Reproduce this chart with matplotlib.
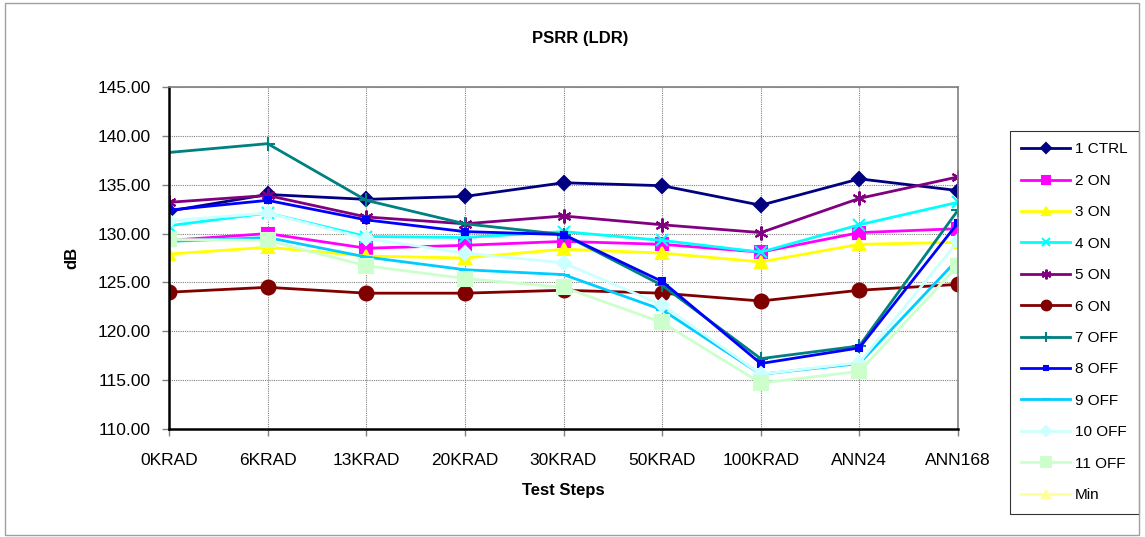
import numpy as np
import matplotlib
matplotlib.use("Agg")
import matplotlib.pyplot as plt
from matplotlib.patches import Rectangle

plt.rcParams['font.family'] = ['Liberation Sans', 'DejaVu Sans']

steps = ["0KRAD", "6KRAD", "13KRAD", "20KRAD", "30KRAD", "50KRAD", "100KRAD", "ANN24", "ANN168"]

ctrl_1 = [132.3, 134.0, 133.5, 133.8, 135.2, 134.9, 132.9, 135.6, 134.4]
on_2 = [129.3, 130.0, 128.5, 128.8, 129.2, 128.9, 128.1, 130.1, 130.5]
on_3 = [127.9, 128.6, 127.7, 127.5, 128.4, 128.0, 127.1, 128.9, 129.1]
on_4 = [130.8, 132.1, 129.7, 129.6, 130.2, 129.3, 128.1, 130.9, 133.2]
on_5 = [133.2, 133.9, 131.7, 131.0, 131.8, 130.9, 130.1, 133.6, 135.8]
on_6 = [124.0, 124.5, 123.9, 123.9, 124.2, 123.9, 123.1, 124.2, 124.8]
off_7 = [138.3, 139.2, 133.4, 131.0, 129.9, 124.7, 117.2, 118.5, 132.4]
off_8 = [132.4, 133.4, 131.4, 130.2, 129.9, 125.1, 116.7, 118.3, 131.1]
off_9 = [129.2, 129.6, 127.6, 126.3, 125.8, 122.2, 115.6, 116.7, 127.4]
off_10 = [131.3, 132.1, 129.5, 128.0, 127.0, 122.7, 115.6, 116.8, 129.2]
off_11 = [129.4, 129.3, 126.7, 125.4, 124.5, 120.9, 114.7, 115.9, 126.7]
min_limit = [100.0, 100.0, 100.0, 100.0, 100.0, 100.0, 100.0, 100.0, 100.0]  # off scale, legend only

series = [
    ("1 CTRL", ctrl_1, "#000080", "D", 7),
    ("2 ON", on_2, "#FF00FF", "s", 8),
    ("3 ON", on_3, "#FFFF00", "^", 9),
    ("4 ON", on_4, "#00FFFF", "x", 8),
    ("5 ON", on_5, "#800080", (6, 2, 0), 10),
    ("6 ON", on_6, "#800000", "o", 10),
    ("7 OFF", off_7, "#008080", "+", 10),
    ("8 OFF", off_8, "#0000FF", "s", 4),
    ("9 OFF", off_9, "#00CCFF", "_", 8),
    ("10 OFF", off_10, "#CCFFFF", "D", 7),
    ("11 OFF", off_11, "#CCFFCC", "s", 10),
    ("Min", min_limit, "#FFFF99", "^", 9),
]

fig = plt.figure(figsize=(11.45, 5.37), dpi=100)
ax = fig.add_axes([169 / 1145, 1 - 429 / 537, (958 - 169) / 1145, (429 - 87) / 537])

x = np.arange(len(steps))
for label, vals, color, marker, ms in series:
    ax.plot(x, vals, color=color, lw=2, marker=marker, markersize=ms,
            markeredgecolor=color, markerfacecolor=color, markeredgewidth=1.5,
            label=label)

ax.set_xlim(0, len(steps) - 1)
ax.set_ylim(110, 145)
ax.set_yticks(np.arange(110, 146, 5))
ax.set_yticklabels([f"{v:.2f}" for v in np.arange(110, 146, 5)], fontsize=12.5)
ax.set_xticks(x)
ax.set_xticklabels(steps, fontsize=12.5)
ax.tick_params(axis='both', direction='out', length=5, width=1, color='#808080')
ax.tick_params(axis='x', pad=12)
ax.tick_params(axis='y', pad=8)
ax.grid(True, color='#808080', linestyle=(0, (1, 1)), linewidth=0.8)
ax.set_axisbelow(True)

for side in ['left', 'bottom']:
    ax.spines[side].set_color('black')
    ax.spines[side].set_linewidth(1.8)
for side in ['top', 'right']:
    ax.spines[side].set_color('#808080')
    ax.spines[side].set_linewidth(1.2)

ax.set_xlabel("Test Steps", fontsize=12, fontweight='bold', labelpad=11)
ax.set_ylabel("dB", fontsize=12, fontweight='bold')
ax.yaxis.set_label_coords(-0.113, 0.5)
fig.text(580 / 1145, 1 - 38 / 537, "PSRR (LDR)", ha='center', va='center',
         fontsize=12, fontweight='bold')

leg = ax.legend(loc='upper left', bbox_to_anchor=(1010 / 1145, 1 - 131 / 537),
                bbox_transform=fig.transFigure, fontsize=11, frameon=True,
                fancybox=False, edgecolor='black', labelspacing=1.14,
                handlelength=3.2, borderpad=0.75, handletextpad=0.3, borderaxespad=0,
                markerscale=0.7)
leg.get_frame().set_linewidth(0.8)

fig.patches.append(Rectangle((5 / 1145, 2 / 537), 1134 / 1145, 532 / 537,
                             transform=fig.transFigure, fill=False,
                             edgecolor='#A0A0A0', linewidth=1))

fig.savefig("out.png", dpi=100)
